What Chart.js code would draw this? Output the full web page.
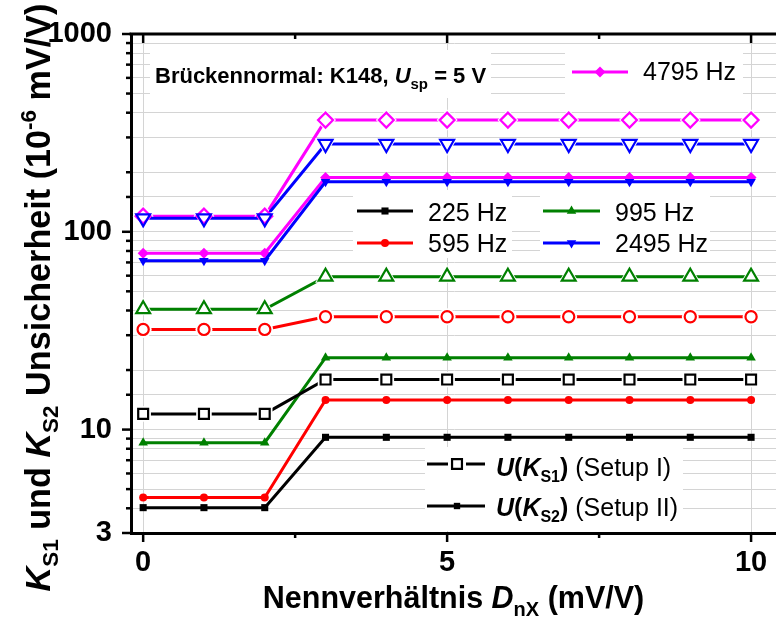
<!DOCTYPE html>
<html>
<head>
<meta charset="utf-8">
<script src="https://cdn.jsdelivr.net/npm/chart.js@4.4.1/dist/chart.umd.min.js"></script>
<style>
  body { margin: 0; background: #fff; }
  #wrap { width: 776px; height: 620px; }
</style>
</head>
<body>
<div id="wrap"><canvas id="myChart" width="776" height="620"></canvas></div>
<script>
// Nennverhältnis D_nX (mV/V)
var xValues = [0, 1, 2, 3, 4, 5, 6, 7, 8, 9, 10];
var seriesNames = ['225 Hz', '595 Hz', '995 Hz', '2495 Hz', '4795 Hz'];

// U(K_S1), Setup I (open markers)
var setupI_225  = [12.0, 12.0, 12.0, 17.9, 17.9, 17.9, 17.9, 17.9, 17.9, 17.9, 17.9];
var setupI_595  = [32.1, 32.1, 32.1, 37.2, 37.2, 37.2, 37.2, 37.2, 37.2, 37.2, 37.2];
var setupI_995  = [40.6, 40.6, 40.6, 59.3, 59.3, 59.3, 59.3, 59.3, 59.3, 59.3, 59.3];
var setupI_2495 = [117, 117, 117, 278, 278, 278, 278, 278, 278, 278, 278];
var setupI_4795 = [120, 120, 120, 367, 367, 367, 367, 367, 367, 367, 367];

// U(K_S2), Setup II (small filled markers)
var setupII_225  = [4.03, 4.03, 4.03, 9.14, 9.14, 9.14, 9.14, 9.14, 9.14, 9.14, 9.14];
var setupII_595  = [4.53, 4.53, 4.53, 14.1, 14.1, 14.1, 14.1, 14.1, 14.1, 14.1, 14.1];
var setupII_995  = [8.59, 8.59, 8.59, 23.1, 23.1, 23.1, 23.1, 23.1, 23.1, 23.1, 23.1];
var setupII_2495 = [71.4, 71.4, 71.4, 179, 179, 179, 179, 179, 179, 179, 179];
var setupII_4795 = [77.9, 77.9, 77.9, 188, 188, 188, 188, 188, 188, 188, 188];

var xTickLabels = [0, 5, 10];
var yTickLabels = [3, 10, 100, 1000];

var FONT = "'Liberation Sans', Arial, sans-serif";
Chart.defaults.font.family = FONT;

var colors = ['#000000', '#ff0000', '#008000', '#0000ff', '#ff00ff'];
// [pointStyle, rotation, radius, gap radius]
var openStyles  = [['rect', 0, 7, 11], ['circle', 0, 5.6, 8.5], ['triangle', 0, 8, 12], ['triangle', 180, 8, 12], ['rectRot', 0, 7.5, 10.5]];
var smallStyles = [['rect', 0, 5], ['circle', 0, 4], ['triangle', 0, 5.5], ['triangle', 180, 5.5], ['rectRot', 0, 5.5]];

var setupI = [setupI_225, setupI_595, setupI_995, setupI_2495, setupI_4795];
var setupII = [setupII_225, setupII_595, setupII_995, setupII_2495, setupII_4795];

function toPoints(arr) {
  return arr.map(function (v, i) { return { x: xValues[i], y: v }; });
}

var markerSets = [], openLines = [], smallLines = [];
setupI.forEach(function (arr, i) {
  var st = openStyles[i];
  markerSets.push({
    label: seriesNames[i] + ' I', data: toPoints(arr), showLine: false,
    pointStyle: st[0], pointRotation: st[1], pointRadius: st[2],
    pointBorderColor: colors[i], pointBackgroundColor: 'rgba(255,255,255,0)', pointBorderWidth: 2.2
  });
  openLines.push({
    label: seriesNames[i] + ' I line', data: toPoints(arr),
    borderColor: colors[i], borderWidth: 3,
    pointStyle: st[0], pointRotation: st[1], pointRadius: st[3],
    pointBackgroundColor: '#ffffff', pointBorderWidth: 0
  });
});
setupII.forEach(function (arr, i) {
  var st = smallStyles[i];
  smallLines.push({
    label: seriesNames[i] + ' II', data: toPoints(arr),
    borderColor: colors[i], borderWidth: 3,
    pointStyle: st[0], pointRotation: st[1], pointRadius: st[2],
    pointBackgroundColor: colors[i], pointBorderWidth: 0
  });
});

function isYMajor(v) {
  return yTickLabels.some(function (t) { return Math.abs(t - v) < 1e-6 * t; });
}

function richWidth(ctx, parts) {
  var w = 0;
  parts.forEach(function (p) { ctx.font = p.f; w += ctx.measureText(p.t).width; });
  return w;
}
function drawRich(ctx, parts, x, y, align) {
  var cx = align === 'center' ? x - richWidth(ctx, parts) / 2 : x;
  ctx.textAlign = 'left';
  ctx.textBaseline = 'alphabetic';
  ctx.fillStyle = '#000';
  parts.forEach(function (p) {
    ctx.font = p.f;
    ctx.fillText(p.t, cx, y + (p.dy || 0));
    cx += ctx.measureText(p.t).width;
  });
}
function line(ctx, x1, y1, x2, y2) {
  ctx.beginPath(); ctx.moveTo(x1, y1); ctx.lineTo(x2, y2); ctx.stroke();
}
function marker(ctx, style, rot, x, y, r, fill, stroke, lw) {
  ctx.save();
  ctx.translate(x, y);
  ctx.rotate(rot * Math.PI / 180);
  ctx.beginPath();
  if (style === 'rect') {
    var h = r * Math.SQRT1_2;
    ctx.rect(-h, -h, 2 * h, 2 * h);
  } else if (style === 'circle') {
    ctx.arc(0, 0, r, 0, Math.PI * 2);
  } else if (style === 'triangle') {
    for (var k = 0; k < 3; k++) {
      var a = k * 2 * Math.PI / 3;
      ctx[k ? 'lineTo' : 'moveTo'](Math.sin(a) * r, -Math.cos(a) * r);
    }
    ctx.closePath();
  } else if (style === 'rectRot') {
    ctx.moveTo(0, -r); ctx.lineTo(r, 0); ctx.lineTo(0, r); ctx.lineTo(-r, 0); ctx.closePath();
  }
  if (fill) { ctx.fillStyle = fill; ctx.fill(); }
  if (stroke) { ctx.strokeStyle = stroke; ctx.lineWidth = lw; ctx.stroke(); }
  ctx.restore();
}

var boxes = [
  [150, 50, 341, 48],
  [565, 50, 178, 46],
  [353, 190, 159, 68],
  [540, 190, 170, 68],
  [425, 447, 258, 84]
];

var decor = {
  id: 'decor',
  beforeDatasetsDraw: function (chart) {
    var ctx = chart.ctx;
    ctx.save();
    ctx.fillStyle = '#ffffff';
    boxes.forEach(function (b) { ctx.fillRect(b[0], b[1], b[2], b[3]); });
    ctx.restore();
  },
  afterDraw: function (chart) {
    var ctx = chart.ctx, a = chart.chartArea;
    var xs = chart.scales.x, ys = chart.scales.y;
    ctx.save();
    ctx.strokeStyle = '#000';
    ctx.lineCap = 'butt';

    // top frame
    ctx.lineWidth = 3;
    line(ctx, a.left - 1.5, a.top, a.right, a.top);

    // tick marks
    ctx.lineWidth = 2.5;
    ys.ticks.forEach(function (t) {
      var py = ys.getPixelForValue(t.value);
      var L = isYMajor(t.value) ? 9 : 5;
      line(ctx, a.left - L, py, a.left, py);
    });
    xs.ticks.forEach(function (t) {
      var px = xs.getPixelForValue(t.value);
      var L = xTickLabels.indexOf(t.value) >= 0 ? 9 : 5;
      line(ctx, px, a.bottom, px, a.bottom + L);
      line(ctx, px, a.top, px, a.top + L);
    });

    // axis titles
    var B = 'bold 30.5px ' + FONT, BI = 'italic bold 30.5px ' + FONT, BS = 'bold 20px ' + FONT;
    drawRich(ctx, [
      { t: 'Nennverhältnis ', f: B }, { t: 'D', f: BI }, { t: 'nX', f: BS, dy: 8 }, { t: ' (mV/V)', f: B }
    ], (a.left + a.right) / 2, 608, 'center');

    var YB = 'bold 34.2px ' + FONT, YBI = 'italic bold 34.2px ' + FONT, YS = 'bold 22.5px ' + FONT;
    ctx.save();
    ctx.translate(50, 297.5);
    ctx.rotate(-Math.PI / 2);
    drawRich(ctx, [
      { t: 'K', f: YBI }, { t: 'S1', f: YS, dy: 8 }, { t: ' und ', f: YB },
      { t: 'K', f: YBI }, { t: 'S2', f: YS, dy: 8 }, { t: ' Unsicherheit (10', f: YB },
      { t: '-6', f: YS, dy: -14 }, { t: ' mV/V)', f: YB }
    ], 0, 0, 'center');
    ctx.restore();

    // annotation
    drawRich(ctx, [
      { t: 'Brückennormal: K148, ', f: 'bold 22px ' + FONT }, { t: 'U', f: 'italic bold 22px ' + FONT },
      { t: 'sp', f: 'bold 15px ' + FONT, dy: 6 }, { t: ' = 5 V', f: 'bold 22px ' + FONT }
    ], 155, 83, 'left');

    // frequency legends
    var legendItems = [
      [4, 572, 628, 72, 643, 80],
      [0, 357, 413, 211, 428, 221],
      [1, 357, 413, 243, 428, 252],
      [2, 543, 600, 211, 615, 221],
      [3, 543, 600, 243, 615, 252]
    ];
    legendItems.forEach(function (it) {
      var i = it[0], st = smallStyles[i];
      ctx.strokeStyle = colors[i];
      ctx.lineWidth = 3;
      line(ctx, it[1], it[3], it[2], it[3]);
      marker(ctx, st[0], st[1], (it[1] + it[2]) / 2, it[3], st[2], colors[i], null, 0);
      drawRich(ctx, [{ t: seriesNames[i], f: '25px ' + FONT }], it[4], it[5], 'left');
    });

    // setup legend
    ctx.strokeStyle = '#000';
    ctx.lineWidth = 3;
    line(ctx, 427, 464, 448, 464);
    line(ctx, 466, 464, 485, 464);
    marker(ctx, 'rect', 0, 457, 464, 7, null, '#000', 2.2);
    line(ctx, 427, 506, 485, 506);
    marker(ctx, 'rect', 0, 457, 506, 4.5, '#000', null, 0);
    drawRich(ctx, [
      { t: 'U', f: 'italic bold 25px ' + FONT }, { t: '(', f: 'bold 25px ' + FONT },
      { t: 'K', f: 'italic bold 25px ' + FONT }, { t: 'S1', f: 'bold 16px ' + FONT, dy: 6 },
      { t: ')', f: 'bold 25px ' + FONT }, { t: ' (Setup I)', f: '25px ' + FONT }
    ], 496, 476, 'left');
    drawRich(ctx, [
      { t: 'U', f: 'italic bold 25px ' + FONT }, { t: '(', f: 'bold 25px ' + FONT },
      { t: 'K', f: 'italic bold 25px ' + FONT }, { t: 'S2', f: 'bold 16px ' + FONT, dy: 6 },
      { t: ')', f: 'bold 25px ' + FONT }, { t: ' (Setup II)', f: '25px ' + FONT }
    ], 496, 516, 'left');

    ctx.restore();
  }
};

var ctx = document.getElementById('myChart').getContext('2d');
var myChart = new Chart(ctx, {
  type: 'line',
  data: { datasets: markerSets.concat(openLines, smallLines) },
  options: {
    responsive: false,
    animation: false,
    events: [],
    layout: { autoPadding: false, padding: { top: 34, right: 0, left: 0, bottom: 0 } },
    plugins: { legend: { display: false }, tooltip: { enabled: false } },
    elements: { line: { tension: 0 } },
    scales: {
      x: {
        type: 'linear',
        min: -0.2,
        max: 10.41,
        afterFit: function (s) { s.height = 87; s.paddingLeft = 0; s.paddingRight = 0; },
        border: { display: true, color: '#000', width: 3 },
        grid: {
          drawTicks: false,
          lineWidth: 1,
          color: function (c) {
            return c.tick && xTickLabels.indexOf(c.tick.value) >= 0 ? '#d4d4d4' : 'rgba(0,0,0,0)';
          }
        },
        ticks: {
          stepSize: 2.5,
          includeBounds: false,
          autoSkip: false,
          maxRotation: 0,
          padding: 13,
          color: '#000',
          font: { size: 29, weight: 'bold' },
          callback: function (v) { return xTickLabels.indexOf(v) >= 0 ? String(v) : ''; }
        }
      },
      y: {
        type: 'logarithmic',
        min: 3,
        max: 1000,
        afterFit: function (s) { s.width = 131; s.paddingTop = 0; s.paddingBottom = 0; },
        border: { display: true, color: '#000', width: 3 },
        grid: { drawTicks: false, lineWidth: 1, color: '#d4d4d4' },
        ticks: {
          autoSkip: false,
          padding: 19,
          color: '#000',
          font: { size: 29, weight: 'bold' },
          callback: function (v) { return isYMajor(v) ? String(Math.round(v)) : ''; }
        }
      }
    }
  },
  plugins: [decor]
});
</script>
</body>
</html>
